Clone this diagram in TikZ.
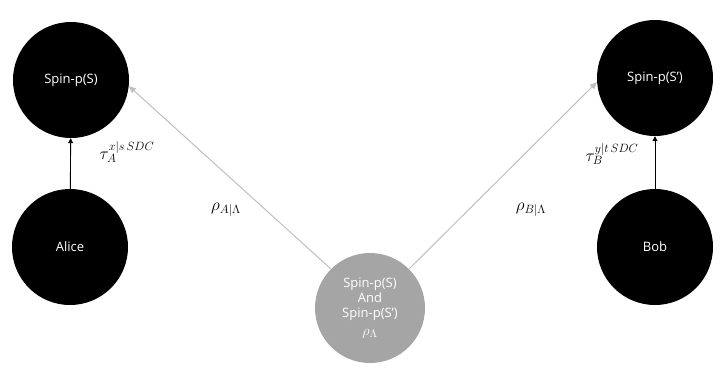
\documentclass[tikz,border=0pt]{standalone}
\usepackage{fontspec}
\setmainfont{Open Sans}
\usetikzlibrary{arrows.meta}
\definecolor{linegray}{HTML}{BFBFBF}
\definecolor{ballgray}{HTML}{A5A5A5}
\tikzset{
  party/.style={circle, fill=black, inner sep=0pt, minimum size=116pt,
    text=white, font=\fontsize{13}{15}\selectfont},
  source/.style={circle, fill=ballgray, inner sep=0pt, minimum size=110pt,
    text=white, align=center, font=\fontsize{13}{15}\selectfont},
  blackarrow/.style={draw=black, line width=0.9pt, -{Triangle[length=5pt,width=5pt]}},
  grayarrow/.style={draw=linegray, line width=1pt, -{Triangle[length=7pt,width=6pt]}},
  mathlabel/.style={font=\fontsize{17}{20}\selectfont}
}
\begin{document}
\begin{tikzpicture}[x=1pt,y=-1pt]
  \useasboundingbox (0,0) rectangle (724,381);
  % the four parties
  \node[party] (spinS)  at (71,80)   {Spin-p(S)};
  \node[party] (alice)  at (70,247)  {Alice};
  \node[party] (spinSp) at (655,78)  {Spin-p(S’)};
  \node[party] (bob)    at (655,247) {Bob};
  % shared source
  \node[source] (src) at (370,308)
    {Spin-p(S)\\And\\Spin-p(S’)\\[3pt]{\fontsize{15}{15}\selectfont$\rho_{\Lambda}$}};
  % local measurements
  \draw[blackarrow] (alice) -- (spinS);
  \draw[blackarrow] (bob) -- (spinSp);
  % distribution from the source
  \draw[grayarrow] (src.135) -- (spinS.-6);
  \draw[grayarrow] (src.45) -- (spinSp.184);
  % labels
  \node[mathlabel] (tauA) at (127,152) {$\tau_A^{x|s\,SDC}$};
  \node[mathlabel] (tauB) at (612,154) {$\tau_B^{y|t\,SDC}$};
  \node[mathlabel] (rhoA) at (226,210) {$\rho_{A|\Lambda}$};
  \node[mathlabel] (rhoB) at (531,210) {$\rho_{B|\Lambda}$};
\end{tikzpicture}
\end{document}
